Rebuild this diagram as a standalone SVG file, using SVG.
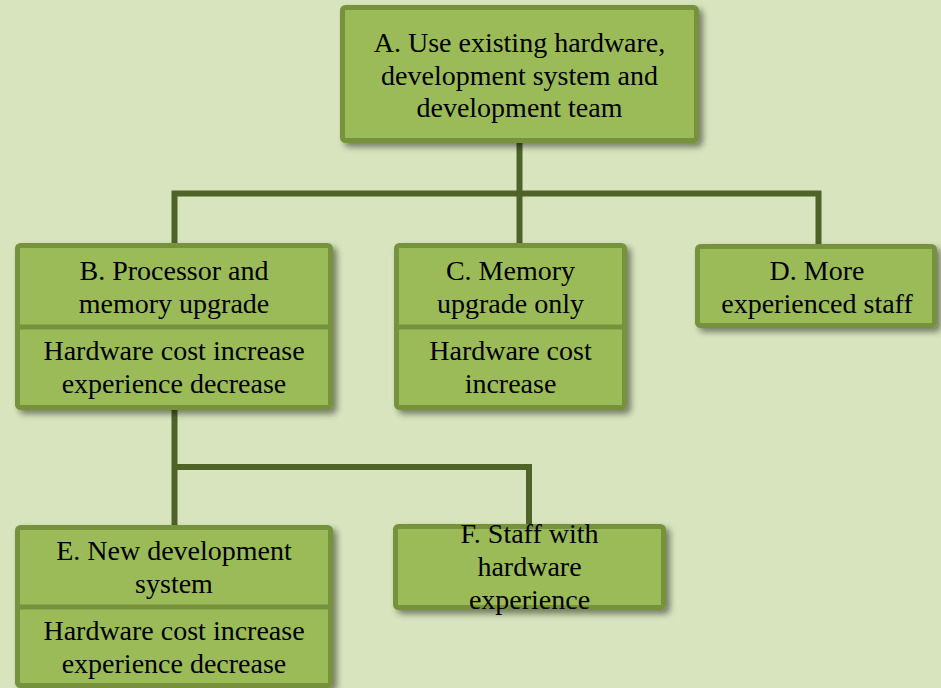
<svg xmlns="http://www.w3.org/2000/svg" width="941" height="688" viewBox="0 0 941 688">
  <defs>
    <filter id="sh" x="-10%" y="-10%" width="130%" height="140%">
      <feDropShadow dx="4" dy="4" stdDeviation="3" flood-color="#000" flood-opacity="0.45"/>
    </filter>
    <style>
      .box { fill: #9bbb59; stroke: #76923c; stroke-width: 5; }
      .div { stroke: #76923c; stroke-width: 5; }
      .conn { fill: none; stroke: #4f6228; stroke-width: 6; stroke-linejoin: miter; stroke-linecap: butt; }
      text { font-family: "Liberation Serif", "Times New Roman", serif; font-size: 28px; fill: #000; text-anchor: middle; }
    </style>
  </defs>
  <rect x="0" y="0" width="941" height="688" fill="#d7e4bd"/>

  <g id="connectors">
    <path class="conn" d="M519.5,143 V193.5"/>
    <path class="conn" d="M174.5,244 V193.5 H818.5 V245"/>
    <path class="conn" d="M519.5,193.5 V244"/>
    <path class="conn" d="M174.5,410 V526"/>
    <path class="conn" d="M174.5,467 H529 V525"/>
  </g>

  <g id="nodeA">
    <rect class="box" x="342.5" y="7.5" width="354" height="133" rx="3" filter="url(#sh)"/>
    <text x="519.5" y="52">A. Use existing hardware,</text>
    <text x="519.5" y="84.5">development system and</text>
    <text x="519.5" y="117">development team</text>
  </g>

  <g id="nodeB">
    <rect class="box" x="17.5" y="245.5" width="313" height="162" rx="3" filter="url(#sh)"/>
    <line class="div" x1="17.5" y1="327" x2="330.5" y2="327"/>
    <text x="174" y="280">B. Processor and</text>
    <text x="174" y="313">memory upgrade</text>
    <text x="174" y="360">Hardware cost increase</text>
    <text x="174" y="393">experience decrease</text>
  </g>

  <g id="nodeC">
    <rect class="box" x="396.5" y="245.5" width="228" height="162" rx="3" filter="url(#sh)"/>
    <line class="div" x1="396.5" y1="327" x2="624.5" y2="327"/>
    <text x="510.5" y="280">C. Memory</text>
    <text x="510.5" y="313">upgrade only</text>
    <text x="510.5" y="360">Hardware cost</text>
    <text x="510.5" y="393">increase</text>
  </g>

  <g id="nodeD">
    <rect class="box" x="697.5" y="246.5" width="237" height="79" rx="3" filter="url(#sh)"/>
    <text x="817" y="280">D. More</text>
    <text x="817" y="313">experienced staff</text>
  </g>

  <g id="nodeE">
    <rect class="box" x="17.5" y="527.5" width="313" height="158" rx="3" filter="url(#sh)"/>
    <line class="div" x1="17.5" y1="607" x2="330.5" y2="607"/>
    <text x="174" y="560">E. New development</text>
    <text x="174" y="593">system</text>
    <text x="174" y="640">Hardware cost increase</text>
    <text x="174" y="673">experience decrease</text>
  </g>

  <g id="nodeF">
    <rect class="box" x="395.5" y="526.5" width="268" height="81" rx="3" filter="url(#sh)"/>
    <text x="529.5" y="543">F. Staff with</text>
    <text x="529.5" y="576">hardware</text>
    <text x="529.5" y="609">experience</text>
  </g>
</svg>
